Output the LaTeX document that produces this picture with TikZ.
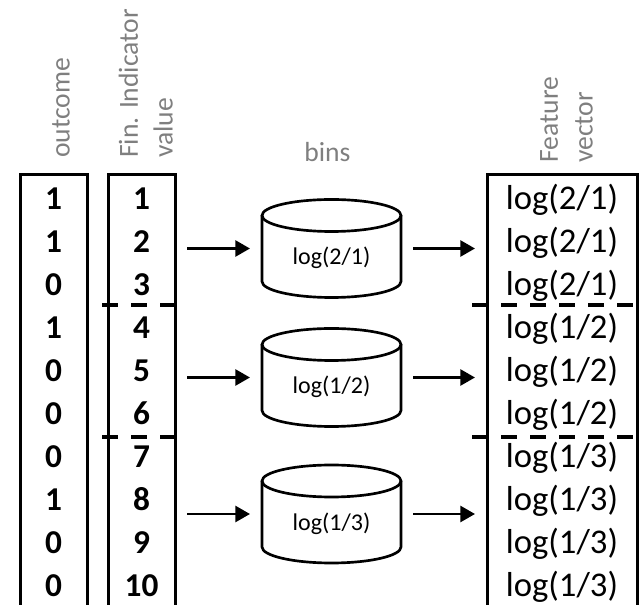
\documentclass[tikz,border=0pt]{standalone}
\usepackage{fontspec}
\setmainfont{Carlito}
\usetikzlibrary{arrows.meta}
\definecolor{gris}{HTML}{7F7F7F}
\newcommand{\px}{0.75pt}

\begin{document}
\begin{tikzpicture}[x=0.75pt,y=0.75pt,>={Triangle[length=11pt,width=12pt]},
    columna/.style={draw,line width=2.25pt,inner sep=0pt,outer sep=0pt,minimum height=470*\px},
    numero/.style={anchor=base,font=\bfseries\fontsize{25}{30}\selectfont},
    valor/.style={anchor=base,font=\fontsize{26}{31}\selectfont},
    titulo/.style={gris,rotate=90,anchor=south west,align=left,inner sep=0pt,
                   font=\fontsize{20.7}{26}\selectfont},
    corte/.style={line width=3pt,dash pattern=on 12pt off 9.75pt},
    cuerpo/.style={inner sep=0pt,outer sep=0pt,minimum width=139*\px,minimum height=66*\px},
    cilindro/.style={line width=2pt},
    etiqueta/.style={font=\fontsize{18}{22}\selectfont},
    flecha/.style={->,line width=2pt,shorten <=9pt,shorten >=9pt}]
  \useasboundingbox (0,0) rectangle (643,-605);
  \clip (0,0) rectangle (643,-605);
  % columns, open at the bottom
  \node[columna,minimum width=67*\px] (outcol) at (53.5,-410) {};
  \node[columna,minimum width=67*\px] (indcol) at (141.5,-410) {};
  \node[columna,minimum width=150*\px] (featcol) at (562,-410) {};
  % headers
  \node[titulo] (tout) at (70,-158) {outcome};
  \node[titulo] (tind) at (173,-158) {Fin. Indicator\\value};
  \node[titulo] (tfeat) at (593,-163) {Feature\\vector};
  \node[gris,anchor=base,font=\fontsize{20.7}{26}\selectfont] (tbins) at (327.5,-162) {bins};
  % rows
  \foreach \o [count=\k] in {1,1,0,1,0,0,0,1,0,0}{
    \node[numero] (out\k) at (53.5,{-210-43*(\k-1)}) {\o};
    \node[numero] (ind\k) at (141.5,{-210-43*(\k-1)}) {\k};
  }
  \foreach \a/\c [count=\k] in {2/1,2/1,2/1,1/2,1/2,1/2,1/3,1/3,1/3,1/3}{
    \node[valor] (feat\k) at (562,{-210-43*(\k-1)}) {log(\a/\c)};
  }
  % bin boundaries
  \foreach \y in {305,437}{
    \draw[corte] (102,-\y) -- (175,-\y);
    \draw[corte] (472,-\y) -- (637,-\y);
  }
  % bins
  \foreach \b/\y/\a/\c in {1/248.5/2/1,2/377.5/1/2,3/514/1/3}{
    \node[cuerpo] (bin\b) at (331.5,-\y) {};
    \draw[cilindro] (bin\b.north) ellipse[x radius=69.5,y radius=16];
    \draw[cilindro] (bin\b.north west) -- (bin\b.south west)
          arc[start angle=180,end angle=360,x radius=69.5,y radius=16] -- (bin\b.north east);
    \node[etiqueta] (lab\b) at ([yshift=-7pt]bin\b.center) {log(\a/\c)};
    \draw[flecha] (indcol.east |- bin\b) -- (bin\b);
    \draw[flecha] (bin\b) -- (featcol.west |- bin\b);
  }
\end{tikzpicture}
\end{document}
